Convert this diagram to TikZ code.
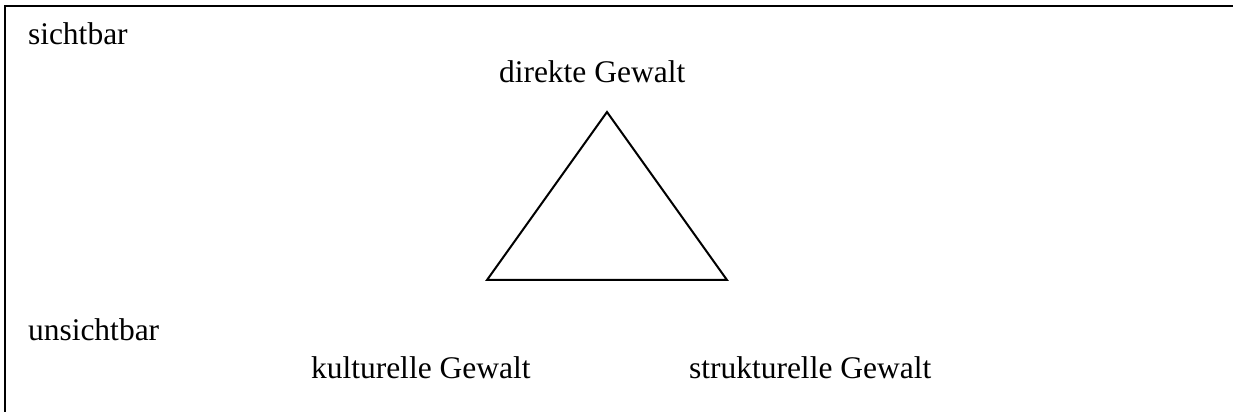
\documentclass[tikz,border=0pt]{standalone}
\usepackage{fontspec}
\setmainfont{Liberation Serif}
\usetikzlibrary{positioning}

\begin{document}
\begin{tikzpicture}[x=0.4pt,y=0.4pt,line width=0.8pt,
    every node/.style={font=\fontsize{12.6}{15}\selectfont,inner sep=0pt,anchor=base west}]
      \useasboundingbox (0,0) rectangle (1233,412);
      % Frame (open to the right and bottom)
      \draw (5,0) -- (5,406) -- (1233,406);
      % Levels
      \node (sicht) at (27,367) {sichtbar};
      \node (unsicht) at (27,71) {unsichtbar};
      % Triangle of violence
      \coordinate (apex) at (607,300);
      \coordinate (lcorner) at (487,132);
      \coordinate (rcorner) at (727,132);
      \draw[line join=miter] (apex) -- (lcorner) -- (rcorner) -- cycle;
      % Corner labels
      \node (direkt) at (498,329) {direkte Gewalt};
      \node (kultur) at (310,33) {kulturelle Gewalt};
      \node (struktur) at (688,33) {strukturelle Gewalt};
    \end{tikzpicture}
\end{document}
